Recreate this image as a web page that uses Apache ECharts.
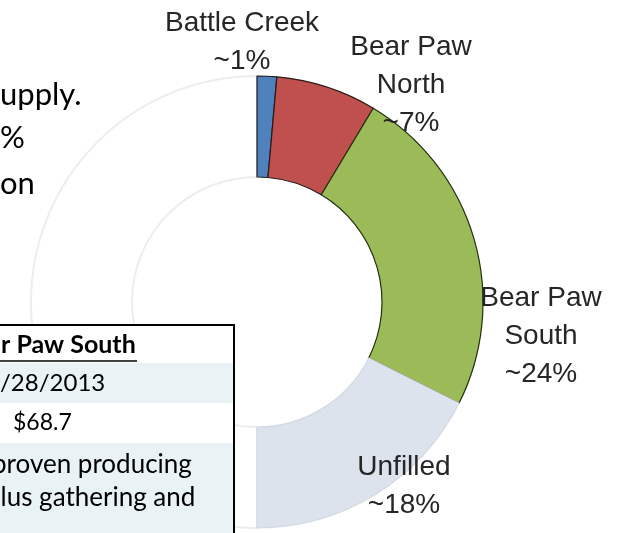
<!DOCTYPE html>
<html>
<head>
<meta charset="utf-8">
<title>Supply share</title>
<script src="https://cdn.jsdelivr.net/npm/echarts@6/dist/echarts.min.js"></script>
<style>
  html, body { margin: 0; padding: 0; background: #fff; }
  #main { width: 620px; height: 533px; }
</style>
</head>
<body>
<div id="main"></div>
<script>
// slices (clockwise from 12 o'clock)
var categories = ['Battle Creek', 'Bear Paw\nNorth', 'Bear Paw\nSouth', 'Unfilled'];
var shares = [1.4, 7.2, 23.8, 17.6];
var shareLabels = ['~1%', '~7%', '~24%', '~18%'];
// the other half of the ring is left blank
var blankShare = 50;

var sliceColors = ['#4f81bd', '#c0504d', '#9bbb59', '#dde3ed'];
var sliceBorders = ['#1f1f1f', '#2a1a1a', '#22300f', '#d3d9e3'];
// label centres
var labelPos = [[242, 42], [411, 85], [541, 336], [404, 486]];

var chart = echarts.init(document.getElementById('main'));

var data = [{
    name: 'blank',
    value: blankShare,
    itemStyle: { color: 'rgba(255,255,255,0)', borderColor: '#ededed', borderWidth: 2 },
    label: { show: false }
}];
for (var i = 0; i < categories.length; i++) {
    data.push({
        name: categories[i],
        value: shares[i],
        itemStyle: { color: sliceColors[i], borderColor: sliceBorders[i], borderWidth: 1.2 },
        label: { formatter: categories[i] + '\n' + shareLabels[i] }
    });
}

var font = 'Lato, "Open Sans", sans-serif';

// table cells, drawn above the ring
var tableParts = [
    { type: 'rect', shape: { x: -4, y: 325, width: 238, height: 212 }, style: { fill: '#fff' } },
    { type: 'rect', shape: { x: -4, y: 363, width: 238, height: 40 }, style: { fill: '#e9f3f6' } },
    { type: 'rect', shape: { x: -4, y: 443, width: 238, height: 94 }, style: { fill: '#e9f3f6' } },
    { type: 'rect', shape: { x: -4, y: 325, width: 238, height: 212 }, style: { fill: 'none', stroke: '#000', lineWidth: 2 } },
    { type: 'text', x: 1, y: 345, style: { text: 'r Paw South', font: 'bold 25px ' + font, fill: '#000', verticalAlign: 'middle' } },
    { type: 'line', shape: { x1: 0, y1: 361, x2: 137, y2: 361 }, style: { stroke: '#000', lineWidth: 1.5 } },
    { type: 'text', x: 0, y: 383, style: { text: '/28/2013', font: '24px ' + font, fill: '#000', verticalAlign: 'middle' } },
    { type: 'text', x: 13, y: 423, style: { text: '$68.7', font: '23px ' + font, fill: '#000', verticalAlign: 'middle' } },
    { type: 'text', x: -8, y: 465, style: { text: 'proven producing', font: '26px ' + font, fill: '#000', verticalAlign: 'middle' } },
    { type: 'text', x: -14, y: 498, style: { text: 'plus gathering and', font: '26px ' + font, fill: '#000', verticalAlign: 'middle' } }
];
for (var k = 0; k < tableParts.length; k++) {
    tableParts[k].z = 100 + k;
}

option = {
    animation: false,
    series: [{
        type: 'pie',
        z: 2,
        center: [257, 302],
        radius: [125, 226],
        startAngle: 270,
        clockwise: true,
        avoidLabelOverlap: false,
        silent: true,
        label: {
            show: true,
            position: 'outside',
            fontFamily: '"Liberation Sans", Arial, sans-serif',
            fontSize: 28,
            lineHeight: 38,
            color: '#262626',
            align: 'center'
        },
        labelLine: { show: false },
        labelLayout: function (p) {
            var pos = labelPos[p.dataIndex - 1];
            if (!pos) return {};
            return { x: pos[0], y: pos[1], align: 'center', verticalAlign: 'middle' };
        },
        data: data
    }],
    graphic: [
        // bullet text cut off by the crop
        { type: 'text', left: 0, top: 79, z: 50, style: { text: 'upply.', font: '31px ' + font, fill: '#000' } },
        { type: 'text', left: 0, top: 122, z: 50, style: { text: '%', font: '31px ' + font, fill: '#000' } },
        { type: 'text', left: 0, top: 168, z: 50, style: { text: 'on', font: '31px ' + font, fill: '#000' } }
    ].concat(tableParts)
};

chart.setOption(option);
</script>
</body>
</html>
